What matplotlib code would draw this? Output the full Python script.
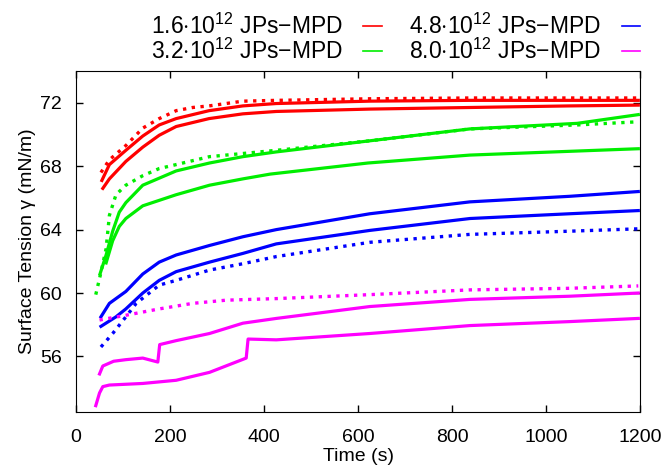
import numpy as np
import matplotlib
matplotlib.use("Agg")
import matplotlib.pyplot as plt

plt.rcParams['font.family'] = ['Liberation Sans', 'DejaVu Sans']
plt.rcParams['mathtext.fontset'] = 'custom'
plt.rcParams['mathtext.rm'] = 'Liberation Sans'
plt.rcParams['mathtext.default'] = 'rm'

# values (time in s, surface tension in mN/m)
# red: 1.6e12
r1_t = [53, 71, 106, 142, 177, 213, 248, 283, 355, 426, 625, 838, 1050, 1196]
r1_v = [67.6, 68.4, 69.3, 70.4, 71.0, 71.5, 71.7, 71.8, 72.1, 72.15, 72.25, 72.3, 72.3, 72.3]
r2_t = [55, 71, 106, 142, 177, 213, 283, 355, 426, 625, 838, 1050, 1196]
r2_v = [67.1, 68.1, 69.0, 69.9, 70.6, 71.0, 71.5, 71.8, 71.95, 72.1, 72.15, 72.15, 72.15]
r3_t = [57, 71, 106, 142, 177, 213, 283, 355, 426, 625, 838, 1050, 1196]
r3_v = [66.6, 67.2, 68.3, 69.2, 69.95, 70.5, 71.0, 71.3, 71.45, 71.6, 71.7, 71.8, 71.85]

# green: 3.2e12
g1_t = [42, 53, 64, 71, 85, 106, 142, 177, 213, 284, 355, 426, 625, 838, 1066, 1196]
g1_v = [59.9, 61.3, 62.8, 64.9, 66.2, 66.8, 67.4, 67.85, 68.1, 68.6, 68.8, 69.0, 69.6, 70.35, 70.6, 70.8]
g2_t = [51, 64, 78, 92, 106, 142, 213, 284, 355, 426, 625, 838, 1066, 1196]
g2_v = [61.2, 62.4, 63.9, 65.1, 65.7, 66.8, 67.7, 68.2, 68.6, 68.9, 69.6, 70.35, 70.7, 71.25]
g3_t = [64, 71, 78, 92, 106, 142, 213, 284, 355, 413, 621, 838, 1196]
g3_v = [61.9, 62.6, 63.3, 64.2, 64.7, 65.5, 66.2, 66.8, 67.2, 67.5, 68.2, 68.7, 69.1]

# blue: 4.8e12
b1_t = [53, 71, 106, 142, 177, 213, 284, 355, 426, 625, 838, 1050, 1196]
b1_v = [58.5, 59.35, 60.1, 61.2, 61.95, 62.4, 63.0, 63.55, 64.0, 65.0, 65.75, 66.1, 66.4]
b2_t = [53, 85, 106, 142, 177, 213, 284, 355, 426, 625, 838, 1050, 1196]
b2_v = [57.9, 58.5, 59.0, 60.0, 60.8, 61.35, 61.95, 62.5, 63.1, 63.95, 64.7, 65.0, 65.2]
b3_t = [53, 78, 106, 128, 177, 213, 284, 355, 426, 625, 838, 1050, 1196]
b3_v = [56.6, 57.45, 58.5, 59.35, 60.5, 60.8, 61.45, 61.85, 62.3, 63.2, 63.7, 63.9, 64.05]

# magenta: 8.0e12
m1_t = [50, 106, 177, 248, 319, 426, 625, 838, 1050, 1196]
m1_v = [58.3, 58.6, 59.0, 59.35, 59.55, 59.65, 59.9, 60.2, 60.3, 60.45]
m2_t = [50, 57, 80, 106, 142, 174, 178, 213, 284, 355, 426, 625, 838, 1050, 1196]
m2_v = [54.9, 55.4, 55.7, 55.8, 55.9, 55.65, 56.75, 57.0, 57.45, 58.1, 58.4, 59.15, 59.6, 59.8, 60.0]
m3_t = [42, 50, 57, 71, 142, 213, 284, 362, 366, 426, 625, 838, 1050, 1196]
m3_v = [52.9, 53.7, 54.1, 54.2, 54.3, 54.5, 55.0, 55.9, 57.1, 57.05, 57.45, 57.95, 58.2, 58.4]

labels = [r'1.6$\cdot$10$^{12}$ JPs$-$MPD', r'3.2$\cdot$10$^{12}$ JPs$-$MPD',
          r'4.8$\cdot$10$^{12}$ JPs$-$MPD', r'8.0$\cdot$10$^{12}$ JPs$-$MPD']
colors = ['#ff0000', '#00ee00', '#0000ff', '#ff00ff']

fig = plt.figure(figsize=(6.68, 4.70), dpi=100)
ax = fig.add_axes([0.1138, 0.1234, 0.8445, 0.7255])

groups = [
    [(r1_t, r1_v, ':'), (r2_t, r2_v, '-'), (r3_t, r3_v, '-')],
    [(g1_t, g1_v, ':'), (g2_t, g2_v, '-'), (g3_t, g3_v, '-')],
    [(b1_t, b1_v, '-'), (b2_t, b2_v, '-'), (b3_t, b3_v, ':')],
    [(m1_t, m1_v, ':'), (m2_t, m2_v, '-'), (m3_t, m3_v, '-')],
]
handles = []
for grp, c, lab in zip(groups, colors, labels):
    for t, v, ls in grp:
        ax.plot(t, v, color=c, lw=2.3 if ls == '-' else 2.4, ls=ls)
    h, = ax.plot([], [], color=c, lw=1.2, label=lab)
    handles.append(h)

ax.set_xlim(0, 1200)
ax.set_ylim(52.5, 74)
ax.set_xticks(np.arange(0, 1201, 200))
ax.set_yticks([56, 60, 64, 68, 72])
ax.tick_params(direction='in', top=True, right=True, length=5, labelsize=14, width=1)
ax.tick_params(axis='x', pad=12)
ax.tick_params(axis='y', pad=10)
ax.set_xlabel('Time (s)', fontsize=14, labelpad=2)
ax.set_ylabel('Surface Tension γ (mN/m)', fontsize=14, labelpad=3)

fig.legend(handles=handles, ncol=2, loc='upper center', bbox_to_anchor=(0.592, 0.995),
           frameon=False, markerfirst=False, fontsize=16.5, handlelength=0.8,
           columnspacing=1.2, labelspacing=0.0, handletextpad=0.9, borderpad=0)

fig.savefig('out.png', dpi=100)
